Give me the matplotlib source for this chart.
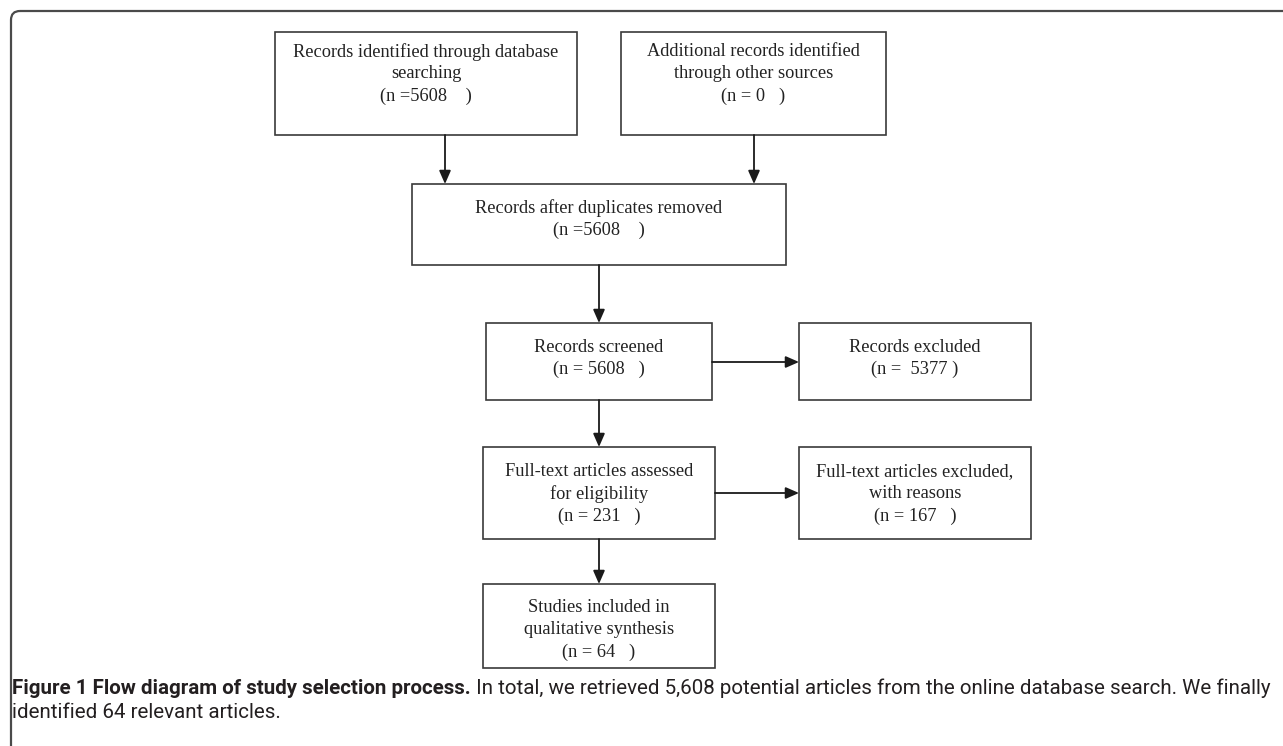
import matplotlib.pyplot as plt
from matplotlib.patches import FancyBboxPatch, Rectangle

# ---------------- data ----------------
box_labels = [
    'Records identified through database\nsearching',
    'Additional records identified\nthrough other sources',
    'Records after duplicates removed',
    'Records screened',
    'Records excluded',
    'Full-text articles assessed\nfor eligibility',
    'Full-text articles excluded,\nwith reasons',
    'Studies included in\nqualitative synthesis',
]
box_counts = ['(n =5608    )', '(n = 0   )', '(n =5608    )', '(n = 5608   )',
              '(n =  5377 )', '(n = 231   )', '(n = 167   )', '(n = 64   )']
caption_bold = 'Figure 1 Flow diagram of study selection process.'
caption_text = (' In total, we retrieved 5,608 potential articles from the online database search. We finally',
                'identified 64 relevant articles.')

# ---------------- layout (pixels, y grows downwards) ----------------
# x0, y0, x1, y1, first text line offset from the top
boxes = [
    (275, 32, 577, 135, 20),
    (621, 32, 886, 135, 20),
    (412, 184, 786, 265, 24),
    (486, 323, 712, 400, 24),
    (799, 323, 1031, 400, 24),
    (483, 447, 715, 539, 25),
    (799, 447, 1031, 539, 25),
    (483, 584, 715, 668, 24),
]
# arrows: start -> end
arrows = [
    ((445, 135), (445, 184)),
    ((754, 135), (754, 184)),
    ((599, 265), (599, 323)),
    ((712, 362), (799, 362)),
    ((599, 400), (599, 447)),
    ((715, 493), (799, 493)),
    ((599, 539), (599, 584)),
]

W, H = 1283, 746
fig = plt.figure(figsize=(W / 100, H / 100), dpi=100)
ax = fig.add_axes([0, 0, 1, 1])
ax.set_xlim(0, W)
ax.set_ylim(H, 0)
ax.axis('off')

line_col = '#3a3a3a'
fs = 13.2
line_gap = 22

# outer frame with rounded top-left corner
frame = FancyBboxPatch((11, 11), 2000, 2000, boxstyle='round,pad=0,rounding_size=9',
                       facecolor='none', edgecolor='#4a4a4a', linewidth=1.6)
ax.add_patch(frame)

for (x0, y0, x1, y1, off), lab, cnt in zip(boxes, box_labels, box_counts):
    ax.add_patch(Rectangle((x0, y0), x1 - x0, y1 - y0, facecolor='white',
                           edgecolor=line_col, linewidth=1.2))
    lines = lab.split('\n') + [cnt]
    for i, t in enumerate(lines):
        ax.text((x0 + x1) / 2, y0 + off + i * line_gap, t, ha='center', va='center',
                fontsize=fs, family='Liberation Serif', color='#222222')

for (sx, sy), (ex, ey) in arrows:
    ax.annotate('', xy=(ex, ey), xytext=(sx, sy),
                arrowprops=dict(arrowstyle='-|>,head_length=0.8,head_width=0.35',
                                color='#1a1a1a', lw=1.3, shrinkA=0, shrinkB=0))

# caption: bold part then regular part on the same line, sized so line 1 ends near x=1268
cap_fam = ['Roboto', 'DejaVu Sans']
cap_fs = 12.0
inv = ax.transData.inverted()
tb = ax.text(12, 688, caption_bold, fontsize=cap_fs, fontweight='bold', family=cap_fam,
             color='#231f20', va='center', ha='left')
tr = ax.text(0, 688, caption_text[0], fontsize=cap_fs, family=cap_fam,
             color='#231f20', va='center', ha='left')
for _ in range(3):
    fig.canvas.draw()
    x_end = inv.transform((tb.get_window_extent().x1, 0))[0]
    tr.set_x(x_end)
    fig.canvas.draw()
    right = inv.transform((tr.get_window_extent().x1, 0))[0]
    cap_fs = cap_fs * (1268 - 12) / (right - 12)
    tb.set_fontsize(cap_fs)
    tr.set_fontsize(cap_fs)
fig.canvas.draw()
tr.set_x(inv.transform((tb.get_window_extent().x1, 0))[0])
ax.text(12, 713, caption_text[1], fontsize=cap_fs, family=cap_fam,
        color='#231f20', va='center', ha='left')

fig.savefig('out.png', dpi=100)
